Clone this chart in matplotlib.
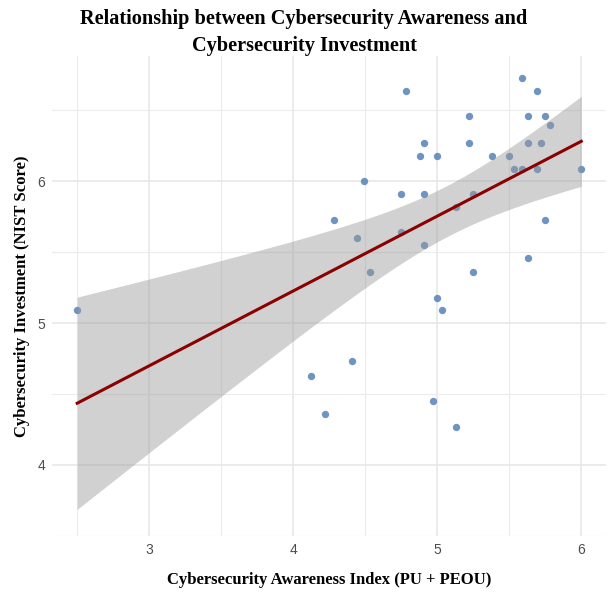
import matplotlib
matplotlib.use("Agg")
import matplotlib.pyplot as plt
import numpy as np

# awareness index (x) and NIST score (y)
awareness = [5.59, 4.78, 5.69, 5.22, 5.63, 5.75, 5.78, 4.91, 5.22, 5.63,
             5.72, 4.88, 5.00, 5.38, 5.50, 5.53, 5.59, 5.69, 6.00, 4.49,
             4.75, 4.91, 5.25, 5.13, 4.28, 5.75, 4.44, 4.75, 4.91, 5.63,
             4.53, 5.25, 5.00, 5.03, 4.41, 4.12, 4.22, 4.97, 5.13, 2.50]
nist_score = [6.73, 6.64, 6.64, 6.46, 6.46, 6.46, 6.40, 6.27, 6.27, 6.27,
              6.27, 6.18, 6.18, 6.18, 6.18, 6.09, 6.09, 6.09, 6.09, 6.00,
              5.91, 5.91, 5.91, 5.82, 5.73, 5.73, 5.60, 5.64, 5.55, 5.46,
              5.36, 5.36, 5.18, 5.09, 4.73, 4.63, 4.36, 4.45, 4.27, 5.09]

x_ticks = [3, 4, 5, 6]
y_ticks = [4, 5, 6]

x = np.array(awareness)
y = np.array(nist_score)

# linear fit + 95% confidence band (like geom_smooth(method = "lm"))
n = len(x)
slope, intercept = np.polyfit(x, y, 1)
resid = y - (intercept + slope * x)
s = np.sqrt(np.sum(resid ** 2) / (n - 2))
t_crit = 2.024  # t(0.975, df = 38)
xs = np.linspace(x.min(), x.max(), 200)
fit = intercept + slope * xs
se = s * np.sqrt(1 / n + (xs - x.mean()) ** 2 / np.sum((x - x.mean()) ** 2))
lower = fit - t_crit * se
upper = fit + t_crit * se

fig = plt.figure(figsize=(6.08, 5.92), dpi=100)
ax = fig.add_axes([0.0855, 0.095, 0.912, 0.81])

ax.scatter(x, y, s=28, color="#5582b8", alpha=0.85, linewidths=0, zorder=2)
ax.fill_between(xs, lower, upper, color="#999999", alpha=0.45, linewidth=0, zorder=3)
ax.plot(xs, fit, color="#8b0000", linewidth=2.2, zorder=4)

ymin = min(lower.min(), y.min())
ymax = max(upper.max(), y.max())
xpad = (x.max() - x.min()) * 0.05
ypad = (ymax - ymin) * 0.05
ax.set_xlim(x.min() - xpad, x.max() + xpad)
ax.set_ylim(ymin - ypad, ymax + ypad)

ax.set_xticks(x_ticks)
ax.set_yticks(y_ticks)
ax.set_xticks([2.5, 3.5, 4.5, 5.5], minor=True)
ax.set_yticks([3.5, 4.5, 5.5, 6.5], minor=True)
ax.grid(which="major", color="#e6e6e6", linewidth=1.1)
ax.grid(which="minor", color="#ececec", linewidth=0.8)
ax.set_axisbelow(True)
for sp in ax.spines.values():
    sp.set_visible(False)
ax.tick_params(which="both", length=0, pad=5)
ax.tick_params(labelsize=10, labelcolor="#4d4d4d")
for lab in ax.get_xticklabels() + ax.get_yticklabels():
    lab.set_family("Liberation Sans")

serif = "Liberation Serif"
ax.set_xlabel("Cybersecurity Awareness Index (PU + PEOU)", fontsize=12,
              fontweight="bold", family=serif, labelpad=11)
ax.set_ylabel("Cybersecurity Investment (NIST Score)", fontsize=12,
              fontweight="bold", family=serif, labelpad=5)
fig.text(0.5, 0.985, "Relationship between Cybersecurity Awareness and\nCybersecurity Investment",
         ha="center", va="top", fontsize=14.6, fontweight="bold", family=serif,
         linespacing=1.5)

fig.savefig("out.png", dpi=100)
